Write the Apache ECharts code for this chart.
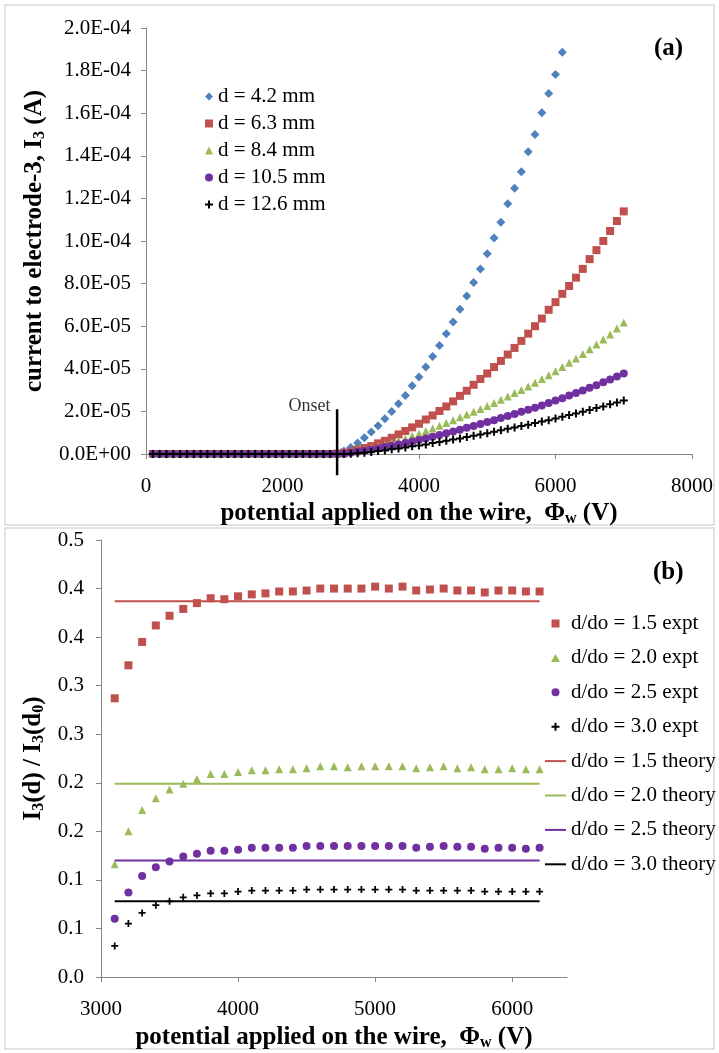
<!DOCTYPE html>
<html>
<head>
<meta charset="utf-8">
<script src="https://cdn.jsdelivr.net/npm/echarts@6/dist/echarts.min.js"></script>
<style>
html, body { margin: 0; padding: 0; background: #fff; }
#chart { width: 719px; height: 1053px; }
</style>
</head>
<body>
<div id="chart"></div>
<script>
var FONT = '"Liberation Serif","Times New Roman",serif';
var SCALE = 1e-5; // panel (a) currents are written in units of 1e-5 A

// ---- panel (a): current to electrode-3 vs wire potential ----
var voltA = [100,200,300,400,500,600,700,800,900,1000,1100,1200,1300,1400,1500,1600,1700,1800,1900,2000,
  2100,2200,2300,2400,2500,2600,2700,2800,2900,3000,3100,3200,3300,3400,3500,3600,3700,3800,3900,4000,
  4100,4200,4300,4400,4500,4600,4700,4800,4900,5000,5100,5200,5300,5400,5500,5600,5700,5800,5900,6000,
  6100,6200,6300,6400,6500,6600,6700,6800,6900,7000];
var namesA = ['d = 4.2 mm', 'd = 6.3 mm', 'd = 8.4 mm', 'd = 10.5 mm', 'd = 12.6 mm'];
var cur42 = [0,0,0,0,0,0,0,0,0,0,0,0,0,0,0,0,0,0,0,0,0,0,0,0,0,0,0,
  0.03,0.14,0.30,0.52,0.76,1.03,1.33,1.65,2.00,2.36,2.75,3.20,3.62,4.08,4.58,5.09,5.64,6.20,6.80,7.42,
  8.05,8.69,9.40,10.14,10.88,11.75,12.48,13.25,14.19,15.00,16.02,16.92,17.82,18.86];
var cur63 = [0,0,0,0,0,0,0,0,0,0,0,0,0,0,0,0,0,0,0,0,0,0,0,0,0,0,0,0.02,
  0.06,0.12,0.20,0.28,0.37,0.50,0.62,0.76,0.92,1.08,1.25,1.42,1.62,1.81,2.02,2.23,2.47,2.73,2.97,3.25,
  3.52,3.78,4.08,4.37,4.67,4.98,5.31,5.65,6.00,6.36,6.77,7.13,7.52,7.89,8.28,8.69,9.15,9.57,10.00,10.47,
  10.94,11.39];
var cur84 = [0,0,0,0,0,0,0,0,0,0,0,0,0,0,0,0,0,0,0,0,0,0,0,0,0,0,0,0,0.02,
  0.09,0.15,0.22,0.28,0.36,0.44,0.53,0.62,0.73,0.84,0.95,1.08,1.20,1.33,1.45,1.59,1.72,1.86,1.98,2.11,
  2.25,2.39,2.55,2.70,2.86,3.01,3.17,3.34,3.52,3.70,3.89,4.09,4.28,4.48,4.70,4.92,5.14,5.37,5.61,5.89,6.17];
var cur105 = [0,0,0,0,0,0,0,0,0,0,0,0,0,0,0,0,0,0,0,0,0,0,0,0,0,0,0,0,0.01,
  0.06,0.11,0.15,0.20,0.26,0.33,0.39,0.45,0.52,0.59,0.66,0.73,0.81,0.89,0.97,1.06,1.14,1.23,1.31,1.41,
  1.50,1.59,1.69,1.78,1.88,1.98,2.08,2.17,2.28,2.40,2.51,2.62,2.75,2.86,2.98,3.11,3.23,3.37,3.50,3.64,3.78];
var cur126 = [0,0,0,0,0,0,0,0,0,0,0,0,0,0,0,0,0,0,0,0,0,0,0,0,0,0,0,0,0,
  0.01,0.03,0.06,0.09,0.14,0.17,0.22,0.26,0.31,0.36,0.40,0.45,0.52,0.56,0.62,0.68,0.73,0.80,0.86,0.92,
  0.98,1.05,1.11,1.19,1.25,1.31,1.37,1.45,1.53,1.59,1.67,1.75,1.83,1.90,1.98,2.06,2.16,2.23,2.33,2.42,2.51];
var onsetV = [2800, 2800];
var onsetI = [2.1, -1.0];

// ---- panel (b): I3(d) / I3(d0) ----
var voltB = [3100,3200,3300,3400,3500,3600,3700,3800,3900,4000,4100,4200,4300,4400,4500,4600,
  4700,4800,4900,5000,5100,5200,5300,5400,5500,5600,5700,5800,5900,6000,6100,6200];
var namesExpt = ['d/do = 1.5 expt', 'd/do = 2.0 expt', 'd/do = 2.5 expt', 'd/do = 3.0 expt'];
var namesTheory = ['d/do = 1.5 theory', 'd/do = 2.0 theory', 'd/do = 2.5 theory', 'd/do = 3.0 theory'];
var ratio15 = [0.287,0.321,0.345,0.362,0.372,0.379,0.385,0.390,0.389,0.392,0.394,0.395,0.397,0.397,0.398,0.400,
  0.400,0.400,0.400,0.402,0.400,0.402,0.398,0.399,0.400,0.398,0.398,0.396,0.398,0.398,0.397,0.397];
var ratio20 = [0.116,0.150,0.172,0.184,0.193,0.199,0.204,0.209,0.209,0.211,0.213,0.213,0.214,0.214,0.215,0.217,
  0.217,0.216,0.217,0.217,0.217,0.217,0.215,0.216,0.217,0.215,0.216,0.214,0.214,0.215,0.214,0.214];
var ratio25 = [0.060,0.087,0.104,0.113,0.119,0.124,0.127,0.130,0.130,0.131,0.133,0.133,0.133,0.133,0.135,0.135,
  0.135,0.135,0.135,0.135,0.135,0.135,0.133,0.134,0.135,0.134,0.134,0.132,0.133,0.133,0.132,0.133];
var ratio30 = [0.032,0.055,0.066,0.074,0.078,0.082,0.084,0.086,0.086,0.088,0.089,0.089,0.089,0.089,0.090,0.090,
  0.090,0.090,0.090,0.090,0.090,0.090,0.089,0.089,0.089,0.089,0.089,0.088,0.088,0.088,0.088,0.088];
var theoryV = [3100, 6200];
var theory = [0.387, 0.199, 0.120, 0.078];
var ticksXB = [3000, 4000, 5000, 6000];

var colors = ['#4F81BD', '#C0504D', '#9BBB59', '#7030A0', '#000000'];
var PLUS = 'path://M3,0H5V3H8V5H5V8H3V5H0V3H3Z';
var SQUARE = 'path://M0,0H1V1H0Z';
var TRI = 'path://M0.5,0L1,0.9H0Z';
var DASH = 'path://M0,0H21V2H0Z';

function pairs(xs, ys, k) {
    return ys.map(function (y, i) { return [xs[i], y * (k || 1)]; });
}

// Excel style 2.0E-04
function sci(v) {
    if (Math.abs(v) < 1e-12) return '0.0E+00';
    var e = Math.floor(Math.log10(Math.abs(v)) + 1e-9);
    var m = v / Math.pow(10, e);
    return m.toFixed(1) + 'E' + (e < 0 ? '-' : '+') + String(Math.abs(e)).padStart(2, '0');
}

var axisGray = { lineStyle: { color: '#868686', width: 1 } };
var tick = { show: true, length: 5, lineStyle: { color: '#868686' } };
var rich = {
    b: { fontSize: 25, fontWeight: 'bold', fontFamily: FONT, color: '#000' },
    s: { fontSize: 16, fontWeight: 'bold', fontFamily: FONT, color: '#000', padding: [11, 0, 0, 0] }
};

var seriesA = [cur42, cur63, cur84, cur105, cur126];
var symA = ['diamond', 'rect', 'triangle', 'circle', PLUS];
var sizeA = [9, 8, 8, 8, 8];

var series = [];
seriesA.forEach(function (vals, i) {
    series.push({
        name: namesA[i], type: 'scatter', xAxisIndex: 0, yAxisIndex: 0,
        symbol: symA[i], symbolSize: sizeA[i],
        itemStyle: { color: colors[i], opacity: 1 },
        data: pairs(voltA, vals, SCALE)
    });
});
series.push({
    type: 'line', xAxisIndex: 0, yAxisIndex: 0, clip: false, silent: true,
    symbol: 'none', lineStyle: { color: '#000', width: 2.5 },
    data: pairs(onsetV, onsetI, SCALE), z: 5
});
series.push({
    type: 'scatter', xAxisIndex: 0, yAxisIndex: 0, silent: true,
    symbolSize: 1, itemStyle: { color: 'transparent' },
    label: { show: true, position: 'left', distance: 6, offset: [0, -3], formatter: 'Onset',
        fontFamily: FONT, fontSize: 18, color: '#000' },
    data: [[onsetV[0], onsetI[0] * SCALE]]
});

var exptB = [ratio15, ratio20, ratio25, ratio30];
var symB = ['rect', 'triangle', 'circle', PLUS];
var iconB = [SQUARE, TRI, 'circle', PLUS];
var sizeB = [8, 8, 8, 7];
exptB.forEach(function (vals, i) {
    series.push({
        name: namesExpt[i], type: 'scatter', xAxisIndex: 1, yAxisIndex: 1,
        symbol: symB[i], symbolSize: sizeB[i],
        itemStyle: { color: colors[i + 1], opacity: 1 },
        data: pairs(voltB, vals)
    });
});
theory.forEach(function (v, i) {
    series.push({
        name: namesTheory[i], type: 'line', xAxisIndex: 1, yAxisIndex: 1,
        symbol: 'none', lineStyle: { color: colors[i + 1], width: 2 },
        itemStyle: { color: colors[i + 1] },
        data: pairs(theoryV, [v, v])
    });
});

var legendB = namesExpt.map(function (n, i) { return { name: n, icon: iconB[i] }; })
    .concat(namesTheory.map(function (n) { return { name: n, icon: DASH }; }));

var labelStyle = { fontFamily: FONT, fontSize: 21, color: '#000' };
var xTitle = '{b|potential applied on the wire,  Φ}{s|w}{b| (V)}';

var option = {
    animation: false,
    backgroundColor: '#fff',
    textStyle: { fontFamily: FONT },
    grid: [
        { left: 146, right: 27, top: 28, bottom: 599 },
        { left: 101, right: 152, top: 540, bottom: 76 }
    ],
    xAxis: [{
        type: 'value', gridIndex: 0, min: 0, max: 8000, interval: 2000,
        axisLine: axisGray, axisTick: tick, splitLine: { show: false },
        axisLabel: Object.assign({ margin: 22, formatter: function (v) { return String(v); } }, labelStyle),
        name: xTitle, nameLocation: 'middle', nameGap: 46, nameTextStyle: { rich: rich }
    }, {
        type: 'value', gridIndex: 1, min: 3000, max: 6400, interval: 1000,
        axisLine: axisGray, axisTick: Object.assign({ customValues: ticksXB }, tick),
        splitLine: { show: false },
        axisLabel: Object.assign({ margin: 22, customValues: ticksXB,
            formatter: function (v) { return v % 1000 === 0 ? String(v) : ''; } }, labelStyle),
        name: xTitle, nameLocation: 'middle', nameGap: 47, nameTextStyle: { rich: rich }
    }],
    yAxis: [{
        type: 'value', gridIndex: 0, min: 0, max: 2e-4, interval: 2e-5,
        axisLine: Object.assign({ show: true }, axisGray), axisTick: tick, splitLine: { show: false },
        axisLabel: Object.assign({ margin: 15, formatter: sci }, labelStyle),
        name: '{b|current to electrode-3, I}{s|3}{b| (A)}',
        nameLocation: 'middle', nameGap: 94, nameTextStyle: { rich: rich }
    }, {
        type: 'value', gridIndex: 1, min: 0, max: 0.45, interval: 0.05,
        axisLine: Object.assign({ show: true }, axisGray), axisTick: tick, splitLine: { show: false },
        axisLabel: Object.assign({ margin: 17, formatter: function (v) {
            return (Math.round(v * 10 + 1e-9) / 10).toFixed(1);
        } }, labelStyle),
        name: '{b|I}{s|3}{b|(d) / I}{s|3}{b|(d}{s|0}{b|)}',
        nameLocation: 'middle', nameGap: 52, nameTextStyle: { rich: rich }
    }],
    legend: [{
        data: namesA, orient: 'vertical', left: 200, top: 81, itemGap: 6,
        itemWidth: 8, itemHeight: 8,
        textStyle: { fontFamily: FONT, fontSize: 21, color: '#000' }
    }, {
        data: legendB, orient: 'vertical', left: 540, top: 608, itemGap: 13.4,
        itemWidth: 21, itemHeight: 8,
        textStyle: { fontFamily: FONT, fontSize: 21, color: '#000' }
    }],
    graphic: [
        { type: 'rect', shape: { x: 5, y: 5, width: 709, height: 520 },
          style: { fill: 'none', stroke: '#d9d9d9', lineWidth: 1.5 }, silent: true },
        { type: 'rect', shape: { x: 5, y: 528, width: 709, height: 521 },
          style: { fill: 'none', stroke: '#d9d9d9', lineWidth: 1.5 }, silent: true },
        { type: 'text', left: 654, top: 36,
          style: { text: '(a)', font: 'bold 25px ' + FONT, fill: '#000' } },
        { type: 'text', left: 653, top: 560,
          style: { text: '(b)', font: 'bold 25px ' + FONT, fill: '#000' } }
    ],
    series: series
};

var chart = echarts.init(document.getElementById('chart'));
chart.setOption(option);
window.addEventListener('resize', function () { chart.resize(); });
</script>
</body>
</html>
